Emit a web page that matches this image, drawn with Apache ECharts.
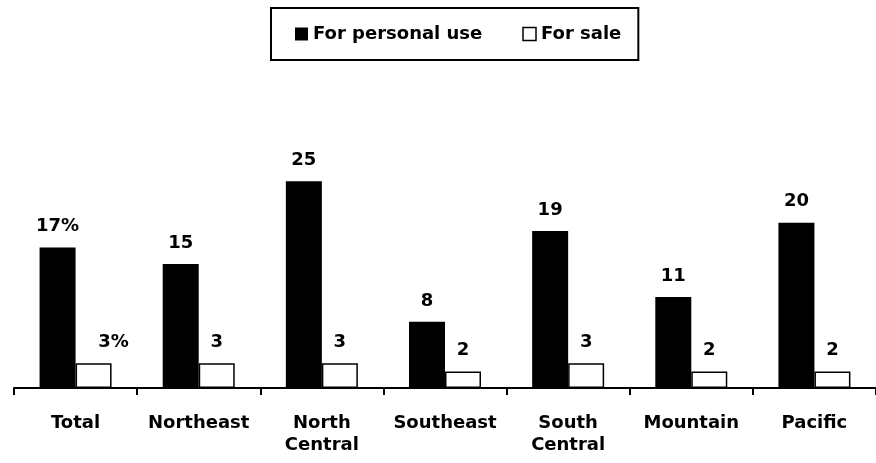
<!DOCTYPE html>
<html>
<head>
<meta charset="utf-8">
<script src="https://cdn.jsdelivr.net/npm/echarts@6/dist/echarts.min.js"></script>
<style>
  html, body { margin: 0; padding: 0; background: #fff; }
  #chart { width: 876px; height: 463px; }
</style>
</head>
<body>
<div id="chart"></div>
<script>
var categories = ['Total', 'Northeast', 'North\nCentral', 'Southeast', 'South\nCentral', 'Mountain', 'Pacific'];
var personalUse = [17, 15, 25, 8, 19, 11, 20];
var forSale = [3, 3, 3, 2, 3, 2, 2];

var chart = echarts.init(document.getElementById('chart'));

// first bar of each series carries a % sign
function labelFmt(p) {
    return p.dataIndex === 0 ? p.value + '%' : String(p.value);
}

var labelStyle = {
    show: true,
    position: 'top',
    distance: 12,
    color: '#000',
    fontFamily: 'DejaVu Sans',
    fontWeight: 'bold',
    fontSize: 18,
    formatter: labelFmt
};

// the "3%" label sits a little to the right in the original
var forSaleData = forSale.map(function (v, i) {
    return i === 0 ? { value: v, label: { offset: [20, 0] } } : v;
});

var option = {
    animation: false,
    backgroundColor: '#fff',
    legend: {
        top: 8,
        left: 271,
        padding: [17, 17, 17, 24],
        borderColor: '#000',
        borderWidth: 2,
        itemWidth: 13,
        itemHeight: 13,
        itemGap: 40,
        icon: 'rect',
        textStyle: {
            color: '#000',
            fontFamily: 'DejaVu Sans',
            fontWeight: 'bold',
            fontSize: 18
        },
        data: [
            { name: 'For personal use', itemStyle: { color: '#000' } },
            { name: 'For sale', itemStyle: { color: '#fff', borderColor: '#000', borderWidth: 1.5 } }
        ]
    },
    grid: {
        left: 14,
        width: 867,
        top: 140,
        bottom: 75
    },
    xAxis: {
        type: 'category',
        data: categories,
        axisLine: { lineStyle: { color: '#000', width: 2 } },
        axisTick: { show: true, length: 7, lineStyle: { color: '#000', width: 2 } },
        axisLabel: {
            interval: 0,
            margin: 24,
            color: '#000',
            fontFamily: 'DejaVu Sans',
            fontWeight: 'bold',
            fontSize: 18,
            lineHeight: 22
        }
    },
    yAxis: {
        type: 'value',
        min: 0,
        max: 30,
        show: false,
        splitLine: { show: false }
    },
    series: [
        {
            name: 'For personal use',
            type: 'bar',
            data: personalUse,
            barWidth: 36,
            barGap: '0%',
            itemStyle: { color: '#000' },
            label: labelStyle
        },
        {
            name: 'For sale',
            type: 'bar',
            data: forSaleData,
            barWidth: 36,
            itemStyle: { color: '#fff', borderColor: '#000', borderWidth: 1.5 },
            label: labelStyle
        }
    ]
};

chart.setOption(option);
window.addEventListener('resize', function () {
    chart.resize();
});
</script>
</body>
</html>
